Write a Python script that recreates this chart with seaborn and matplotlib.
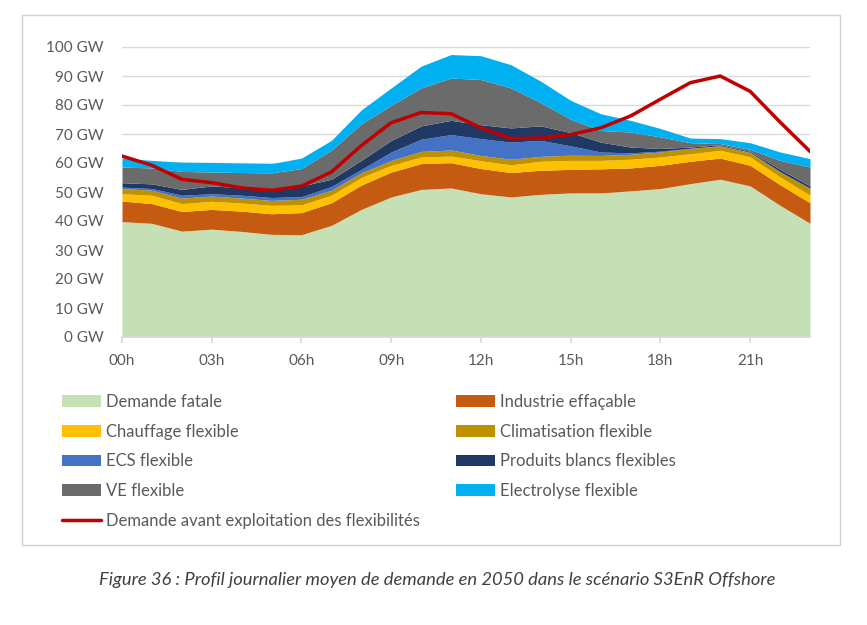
import pandas as pd
import matplotlib
matplotlib.use('Agg')
import matplotlib.pyplot as plt
from matplotlib.patches import Patch, Rectangle
from matplotlib.lines import Line2D
import seaborn as sns

# valeurs horaires (GW)
heures = list(range(24))
xtick_pos = [0, 3, 6, 9, 12, 15, 18, 21]
xtick_labels = ["00h", "03h", "06h", "09h", "12h", "15h", "18h", "21h"]
ytick_pos = list(range(0, 101, 10))

demande_fatale = [39.8, 39.2, 36.5, 37.2, 36.4, 35.4, 35.3, 38.5, 44.0, 48.3, 50.9, 51.4,
                  49.4, 48.3, 49.2, 49.7, 49.7, 50.4, 51.2, 52.9, 54.4, 52.1, 45.4, 39.2]
industrie = [7.1, 6.8, 6.8, 6.8, 7.0, 7.1, 7.6, 7.8, 8.4, 8.6, 8.9, 8.7,
             8.7, 8.4, 8.3, 8.1, 8.3, 7.9, 8.0, 7.7, 7.3, 7.1, 7.1, 7.1]
chauffage = [2.5, 2.9, 2.7, 2.8, 2.8, 2.9, 2.7, 2.6, 2.6, 2.3, 2.3, 2.3,
             2.7, 2.7, 3.1, 3.1, 2.9, 3.0, 2.9, 2.6, 2.7, 2.9, 2.7, 2.6]
climatisation = [1.8, 1.7, 1.9, 1.8, 1.7, 1.7, 1.9, 1.7, 1.6, 1.7, 1.9, 2.1,
                 1.8, 1.9, 1.7, 1.8, 1.7, 1.7, 1.7, 1.8, 1.5, 1.5, 1.7, 2.3]
ecs = [0.5, 0.6, 1.0, 0.8, 1.0, 1.0, 0.9, 1.3, 1.2, 2.9, 4.2, 5.3,
       5.8, 5.9, 5.5, 3.2, 1.2, 0.5, 0.3, 0.1, 0.1, 0.1, 0.1, 0.1]
produits_blancs = [1.5, 1.6, 2.0, 2.7, 2.6, 2.8, 3.7, 2.5, 3.1, 4.0, 4.6, 4.9,
                   4.8, 4.9, 5.0, 4.6, 3.4, 2.0, 0.9, 0.4, 0.3, 0.3, 0.8, 0.8]
ve = [5.4, 5.5, 6.2, 4.8, 5.2, 5.7, 6.0, 10.0, 12.6, 12.1, 13.1, 14.6,
      15.6, 13.8, 8.0, 4.6, 4.0, 5.2, 4.0, 1.5, 0.4, 0.7, 3.1, 6.5]
electrolyse = [3.1, 2.6, 3.2, 3.3, 3.3, 3.2, 3.6, 3.4, 4.8, 6.0, 7.5, 8.1,
               8.2, 8.0, 7.4, 6.5, 5.8, 4.0, 2.9, 1.6, 1.7, 2.3, 2.9, 2.9]
demande_avant = [62.4, 59.2, 54.4, 53.2, 51.4, 50.6, 52.0, 56.9, 66.0, 73.9, 77.4, 77.0,
                 72.1, 68.4, 68.6, 69.8, 72.1, 76.2, 82.0, 87.7, 90.0, 84.7, 74.1, 64.0]

series = ["Demande fatale", "Industrie effaçable", "Chauffage flexible",
          "Climatisation flexible", "ECS flexible", "Produits blancs flexibles",
          "VE flexible", "Electrolyse flexible"]
couleurs = ["#C5E0B4", "#C55A11", "#FFC000", "#BF9000",
            "#4472C4", "#1F3864", "#6B6B6B", "#00B0F0"]
rouge = "#C00000"
label_ligne = "Demande avant exploitation des flexibilités"

df = pd.DataFrame({
    "heure": heures,
    series[0]: demande_fatale,
    series[1]: industrie,
    series[2]: chauffage,
    series[3]: climatisation,
    series[4]: ecs,
    series[5]: produits_blancs,
    series[6]: ve,
    series[7]: electrolyse,
    "avant": demande_avant,
})

sns.set_theme(style="white")
plt.rcParams['font.family'] = ['Lato', 'DejaVu Sans']
gris_txt = "#595959"

W, H = 867, 625
fig = plt.figure(figsize=(W / 100, H / 100), dpi=100)
ax = fig.add_axes([122 / W, 1 - 337 / H, (810 - 122) / W, (337 - 47) / H])

ax.stackplot(df["heure"], [df[s] for s in series], colors=couleurs, linewidth=0)
sns.lineplot(data=df, x="heure", y="avant", color=rouge, linewidth=2.5, ax=ax)

ax.set_xlim(0, 23)
ax.set_ylim(0, 100)
ax.set_xticks(xtick_pos)
ax.set_xticklabels(xtick_labels)
ax.set_yticks(ytick_pos)
ax.set_yticklabels([f"{v} GW" for v in ytick_pos])
ax.set_xlabel("")
ax.set_ylabel("")
ax.grid(axis="y", color="#D9D9D9", linewidth=1)
ax.grid(axis="x", visible=False)
ax.set_axisbelow(True)
for side in ["top", "right", "left"]:
    ax.spines[side].set_visible(False)
ax.spines["bottom"].set_color("#D9D9D9")
ax.tick_params(axis="x", bottom=True, length=4, color="#D9D9D9", pad=8,
               labelsize=11, labelcolor=gris_txt)
ax.tick_params(axis="y", length=0, pad=13, labelsize=11, labelcolor=gris_txt)

# légende sur deux colonnes, placée à la main
def handle(i):
    return Patch(facecolor=couleurs[i], edgecolor="none")

col1 = [handle(0), handle(2), handle(4), handle(6), Line2D([0], [0], color=rouge, lw=2.5)]
lab1 = [series[0], series[2], series[4], series[6], label_ligne]
col2 = [handle(1), handle(3), handle(5), handle(7)]
lab2 = [series[1], series[3], series[5], series[7]]

kw = dict(loc="upper left", frameon=False, fontsize=12, borderpad=0, borderaxespad=0,
          handlelength=2.35, handletextpad=0.3, labelspacing=0.82, labelcolor=gris_txt)
fig.legend(col1, lab1, bbox_to_anchor=(62 / W, 1 - 394 / H), **kw)
fig.legend(col2, lab2, bbox_to_anchor=(456 / W, 1 - 394 / H), **kw)

fig.add_artist(Rectangle((22 / W, 1 - 545 / H), (840 - 22) / W, (545 - 15) / H,
                         transform=fig.transFigure, fill=False,
                         edgecolor="#D0D0D0", linewidth=1))

fig.text(437 / W, 1 - 580 / H,
         "Figure 36 : Profil journalier moyen de demande en 2050 dans le scénario S3EnR Offshore",
         ha="center", va="center", style="italic", fontsize=13.2, color="#404040")

fig.savefig("out.png", dpi=100)
